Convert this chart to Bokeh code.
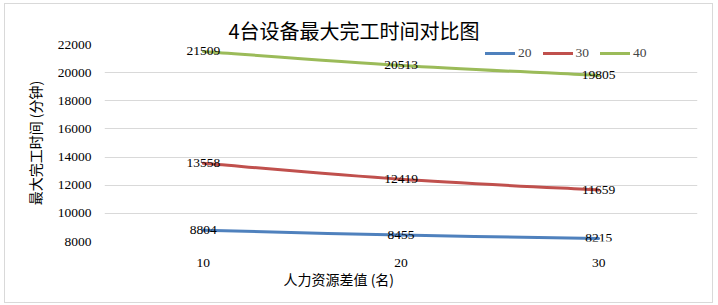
from bokeh.plotting import figure
from bokeh.models import (Range1d, FixedTicker, Legend, LegendItem, Title,
                          ColumnDataSource)
from bokeh.core.properties import value
from bokeh.embed import file_html
from bokeh.resources import INLINE

# ---- data ----
categories = ["10", "20", "30"]
series_names = ["20", "30", "40"]
values_20 = [8804, 8455, 8215]
values_30 = [13558, 12419, 11659]
values_40 = [21509, 20513, 19805]
colors = ["#4F81BD", "#C0504D", "#9BBB59"]
y_ticks = [8000, 10000, 12000, 14000, 16000, 18000, 20000, 22000]

title_text = "4台设备最大完工时间对比图"
x_label_text = "人力资源差值 (名)"
y_label_text = "最大完工时间 (分钟)"

SERIF = "Liberation Serif"
CJK = "Noto Sans CJK SC"
NUM_SIZE = "13.5px"

xpos = [i + 0.5 for i in range(len(categories))]

p = figure(width=709, height=300, output_backend="svg", toolbar_location=None,
           x_range=Range1d(0, len(categories)), y_range=Range1d(8000, 22000),
           min_border_left=99, min_border_right=17, min_border_top=40,
           min_border_bottom=63)
p.styles = {"border": "1px solid #D9D9D9", "margin-left": "4px", "margin-top": "3px"}
p.outline_line_color = None
p.background_fill_color = "white"
p.border_fill_color = "white"

# axes
p.xaxis.ticker = FixedTicker(ticks=xpos)
p.xaxis.major_label_overrides = {x: c for x, c in zip(xpos, categories)}
p.yaxis.ticker = FixedTicker(ticks=y_ticks)
for ax in (p.xaxis[0], p.yaxis[0]):
    ax.axis_line_color = None
    ax.major_tick_line_color = None
    ax.minor_tick_line_color = None
    ax.major_tick_in = 0
    ax.major_tick_out = 0
    ax.major_label_text_font = SERIF
    ax.major_label_text_font_size = NUM_SIZE
    ax.major_label_text_color = "black"
p.xaxis.major_label_standoff = 17
p.yaxis.major_label_standoff = 13
p.yaxis.axis_label = y_label_text
p.yaxis.axis_label_text_font = CJK
p.yaxis.axis_label_text_font_size = "14px"
p.yaxis.axis_label_text_font_style = "normal"
p.yaxis.axis_label_text_color = "black"
p.yaxis.axis_label_standoff = 10

p.xgrid.grid_line_color = None
p.ygrid.grid_line_color = "#D9D9D9"
p.ygrid.grid_line_width = 1

# smoothed lines (Excel-style Catmull-Rom beziers computed from the data)
all_series = [values_20, values_30, values_40]
legend_items = []
for name, vals, col in zip(series_names, all_series, colors):
    n = len(vals)
    x0, y0, x1, y1, cx0, cy0, cx1, cy1 = [], [], [], [], [], [], [], []
    for i in range(n - 1):
        pm = max(i - 1, 0)
        pn = min(i + 2, n - 1)
        x0.append(xpos[i]); y0.append(vals[i])
        x1.append(xpos[i + 1]); y1.append(vals[i + 1])
        cx0.append(xpos[i] + (xpos[i + 1] - xpos[pm]) / 6.0)
        cy0.append(vals[i] + (vals[i + 1] - vals[pm]) / 6.0)
        cx1.append(xpos[i + 1] - (xpos[pn] - xpos[i]) / 6.0)
        cy1.append(vals[i + 1] - (vals[pn] - vals[i]) / 6.0)
    r = p.bezier(x0=x0, y0=y0, x1=x1, y1=y1, cx0=cx0, cy0=cy0, cx1=cx1, cy1=cy1,
                 line_color=col, line_width=3, line_cap="round")
    legend_items.append(LegendItem(label=name, renderers=[r]))

# data labels
for vals in all_series:
    src = ColumnDataSource(dict(x=xpos, y=vals, t=[str(v) for v in vals]))
    p.text(x="x", y="y", text="t", source=src, text_align="center",
           text_baseline="middle", text_font=value(SERIF),
           text_font_size=NUM_SIZE, text_color="black")

legend = Legend(items=legend_items, orientation="horizontal",
                location=(381, 180), padding=0, margin=0, spacing=11,
                glyph_width=30, glyph_height=16, label_height=16,
                label_width=13, label_standoff=3,
                label_text_font=SERIF, label_text_font_size=NUM_SIZE,
                border_line_alpha=0, background_fill_alpha=0)
p.add_layout(legend, "center")

# chart title and x axis title
p.add_layout(Title(text=title_text, align="left", offset=124, standoff=0,
                   text_font=CJK, text_font_size="20px",
                   text_font_style="normal", text_color="black"), "above")
p.add_layout(Title(text=x_label_text, align="left", offset=179, standoff=-5,
                   text_font=CJK, text_font_size="14px",
                   text_font_style="normal", text_color="black"), "below")

open("out.html", "w").write(file_html(p, INLINE))
